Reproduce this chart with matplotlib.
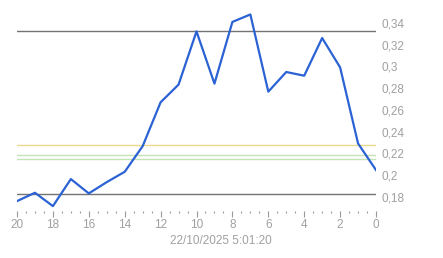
import matplotlib
matplotlib.use('Agg')
import matplotlib.pyplot as plt
from matplotlib.ticker import MultipleLocator, FuncFormatter

# readings, x counts down from 20 to 0
x = [20, 19, 18, 17, 16, 15, 14, 13, 12, 11, 10, 9, 8, 7, 6, 5, 4, 3, 2, 1, 0]
y = [0.176, 0.1837, 0.1714, 0.1963, 0.1831, 0.1935, 0.203, 0.2266, 0.267, 0.2833,
     0.3323, 0.2842, 0.341, 0.3479, 0.2768, 0.2949, 0.2915, 0.3262, 0.2992, 0.2291, 0.2046]

# reference levels
upper_limit = 0.3326
lower_limit = 0.1825
yellow_level = 0.2276
green_levels = [0.2184, 0.2147]

timestamp = '22/10/2025 5:01:20'

plt.rcParams['font.family'] = ['Liberation Sans', 'DejaVu Sans']

fig = plt.figure(figsize=(4.43, 2.58), dpi=100)
ax = fig.add_axes([17/443, 1 - 211/258, (376-17)/443, (211-10)/258])

ax.axhline(upper_limit, color='#737373', lw=1.0, zorder=1)
ax.axhline(lower_limit, color='#737373', lw=1.0, zorder=1)
ax.axhline(yellow_level, color='#eed98a', lw=1.0, zorder=1)
for g in green_levels:
    ax.axhline(g, color='#c2e5b8', lw=1.0, zorder=1)

ax.plot(x, y, color='#2b62d4', lw=1.6, zorder=3)

ax.set_xlim(20, 0)
ax.set_ylim(0.1669, 0.352)

for s in ax.spines.values():
    s.set_visible(False)

ax.xaxis.set_major_locator(MultipleLocator(2))
ax.xaxis.set_minor_locator(MultipleLocator(0.5))
ax.tick_params(axis='x', which='major', length=4, width=0.8, color='#999999',
               labelsize=8.5, labelcolor='#a0a0a0', pad=2)
ax.tick_params(axis='x', which='minor', length=1.5, width=0.8, color='#999999')

ax.yaxis.set_major_locator(MultipleLocator(0.02))
ax.yaxis.tick_right()
ax.tick_params(axis='y', which='both', length=0, labelsize=8.5, labelcolor='#a0a0a0', pad=4)
ax.yaxis.set_major_formatter(FuncFormatter(lambda v, p: ('%.2f' % v).rstrip('0').replace('.', ',')))

fig.text(221/443, 1 - 241/258, timestamp, ha='center', va='center', fontsize=8.5, color='#a0a0a0')

fig.savefig('out.png', dpi=100)
